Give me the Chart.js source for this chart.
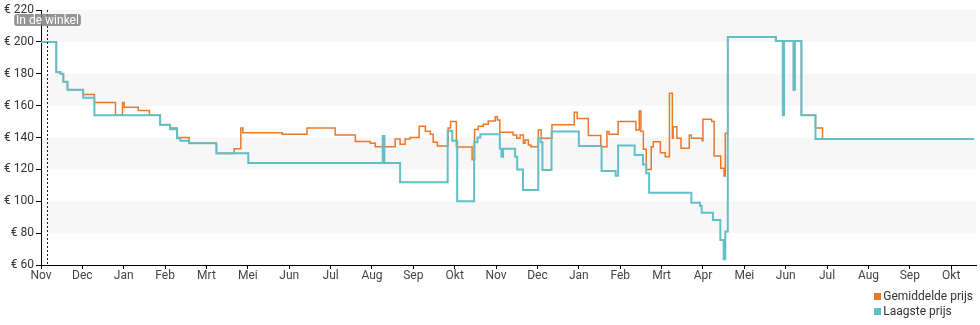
<!DOCTYPE html>
<html>
<head>
<meta charset="utf-8">
<script src="https://cdn.jsdelivr.net/npm/chart.js@4/dist/chart.umd.min.js"></script>
<style>
  body { margin: 0; background: #fff; font-family: Roboto, sans-serif; }
  #wrap { position: relative; width: 980px; height: 325px; }
  #legend { position: absolute; right: 7px; top: 289px; font-size: 12px; color: #333; line-height: 15px; }
  #legend span.box { display: inline-block; width: 7px; height: 7px; margin-right: 2px; }
</style>
</head>
<body>
<div id="wrap">
  <canvas id="chart"></canvas>
  <div id="legend"></div>
</div>
<script>
// x values are months counted from the first "Nov" tick
const monthLabels = ['Nov', 'Dec', 'Jan', 'Feb', 'Mrt', 'Mei', 'Jun', 'Jul', 'Aug', 'Sep', 'Okt',
  'Nov', 'Dec', 'Jan', 'Feb', 'Mrt', 'Apr', 'Mei', 'Jun', 'Jul', 'Aug', 'Sep', 'Okt'];

const avgMonths = [0, 0.37, 0.47, 0.54, 0.64, 1.02, 1.29, 1.80, 1.97, 2.01, 2.35, 2.62, 2.88, 3.12, 3.29, 3.58,
  4.24, 4.67, 4.83, 4.88, 5.83, 6.43, 7.11, 7.60, 7.96, 8.08, 8.26, 8.30, 8.56, 8.68, 8.80, 8.92,
  9.14, 9.29, 9.41, 9.48, 9.58, 9.84, 9.90, 10.04, 10.42, 10.48, 10.57, 10.69, 10.81, 10.98, 11.03,
  11.09, 11.41, 11.50, 11.58, 11.66, 11.70, 11.78, 11.84, 12.02, 12.09, 12.35, 12.89, 12.96, 13.23,
  13.53, 13.68, 13.73, 13.95, 14.38, 14.46, 14.50, 14.56, 14.63, 14.75, 14.80, 14.97, 15.09, 15.19,
  15.26, 15.28, 15.37, 15.47, 15.67, 15.72, 15.98, 16.00, 16.21, 16.27, 16.43, 16.51, 16.54, 16.60,
  17.77, 17.93, 17.96, 18.19, 18.22, 18.38, 18.72, 18.89, 22.55];
const avgPrices = [200, 181, 180, 175, 170, 167, 162, 154, 162, 159, 157, 154, 148, 146, 140, 136.5,
  130, 133, 146, 143, 142, 146, 141.5, 137.5, 136.4, 134.2, 140.5, 134.2, 139, 135.7, 139, 140,
  147, 144, 142, 137, 134.7, 146, 150, 134, 126, 145, 147, 148.3, 150.4, 153, 151,
  143.3, 141.6, 139.5, 141.6, 136.4, 138.5, 135.3, 134.2, 144.7, 139.5, 148, 155.8, 152, 141.2,
  134.2, 143.7, 142, 150, 144.7, 156.6, 144, 132.6, 120, 134.2, 137.4, 130.5, 128, 167.7,
  139.5, 146.8, 139.5, 133.2, 141.6, 139.5, 137.9, 151.4, 150, 128.4, 120.7, 115.9, 142.6, 203,
  200.5, 154, 200.5, 170, 200.5, 154, 146, 139, 139];

const lowMonths = [0, 0.37, 0.47, 0.54, 0.64, 1.02, 1.29, 2.88, 3.12, 3.29, 3.37, 3.58, 4.24, 5.01,
  8.26, 8.30, 8.68, 9.83, 9.94, 10.06, 10.47, 10.55, 10.62, 11.09, 11.13, 11.17, 11.46, 11.51, 11.65,
  12.02, 12.08, 12.12, 12.34, 13.00, 13.55, 13.89, 13.95, 14.35, 14.55, 14.63, 14.70, 15.72, 15.93,
  15.97, 16.24, 16.42, 16.50, 16.54, 16.60, 17.76, 17.93, 17.96, 18.19, 18.22, 18.38, 18.72, 22.55];
const lowPrices = [200, 181, 180, 175, 170, 165, 154, 148, 145.2, 139.5, 138, 136.4, 130.1, 124,
  141, 124, 112, 144.3, 138, 100, 137, 140, 142, 133, 128, 133, 128, 120, 107,
  139.5, 137, 119.6, 143.7, 134.7, 119, 116, 135, 129, 123, 117.5, 105.4, 99, 97,
  92.8, 88.3, 75.7, 63.6, 81, 203, 200.5, 154, 200.5, 170, 200.5, 154, 139, 139];

const yTicks = [60, 80, 100, 120, 140, 160, 180, 200, 220];
const shadedBands = [[80, 100], [120, 140], [160, 180], [200, 220]];
const storeMonth = 0.15;
const storeLabel = 'In de winkel';

const seriesNames = ['Gemiddelde prijs', 'Laagste prijs'];
const seriesColors = ['#e8792b', '#62bfc7'];

const toPoints = (xs, ys) => xs.map((x, i) => ({x: x, y: ys[i]}));

const bandsPlugin = {
  id: 'bands',
  beforeDatasetsDraw(chart) {
    const {ctx, chartArea, scales: {y}} = chart;
    ctx.save();
    ctx.fillStyle = '#f7f7f7';
    shadedBands.forEach(([lo, hi]) => {
      const top = y.getPixelForValue(hi);
      ctx.fillRect(chartArea.left + 1, top, chartArea.right - chartArea.left - 1, y.getPixelForValue(lo) - top);
    });
    ctx.restore();
  }
};

const storePlugin = {
  id: 'storeMarker',
  afterDatasetsDraw(chart) {
    const {ctx, chartArea, scales: {x}} = chart;
    const px = Math.round(x.getPixelForValue(storeMonth)) + 0.5;
    ctx.save();
    ctx.strokeStyle = '#222';
    ctx.lineWidth = 1;
    ctx.setLineDash([2, 2]);
    ctx.beginPath();
    ctx.moveTo(px, chartArea.top);
    ctx.lineTo(px, chartArea.bottom);
    ctx.stroke();
    ctx.setLineDash([]);
    ctx.font = '12px Roboto';
    const w = ctx.measureText(storeLabel).width + 4;
    const cy = chartArea.top + 10;
    ctx.fillStyle = 'rgba(130,130,130,0.85)';
    ctx.beginPath();
    ctx.roundRect(px - w / 2, cy - 6, w, 12, 3);
    ctx.fill();
    ctx.fillStyle = '#fff';
    ctx.textAlign = 'center';
    ctx.textBaseline = 'middle';
    ctx.fillText(storeLabel, px, cy + 0.5);
    ctx.restore();
  }
};

new Chart(document.getElementById('chart'), {
  type: 'line',
  data: {
    datasets: [
      {label: seriesNames[0], data: toPoints(avgMonths, avgPrices), borderColor: seriesColors[0], borderWidth: 1.5, order: 1},
      {label: seriesNames[1], data: toPoints(lowMonths, lowPrices), borderColor: seriesColors[1], borderWidth: 2, order: 0}
    ]
  },
  options: {
    animation: false,
    responsive: true,
    maintainAspectRatio: false,
    layout: {padding: {top: 10, right: 4, bottom: 40, left: 0}},
    elements: {
      line: {stepped: true, fill: false},
      point: {radius: 0}
    },
    scales: {
      x: {
        type: 'linear',
        min: 0,
        max: 22.6,
        afterBuildTicks: (scale) => { scale.ticks = monthLabels.map((_, i) => ({value: i})); },
        afterFit: (scale) => { scale.height = 20; },
        ticks: {
          autoSkip: false, maxRotation: 0, padding: 0, color: '#444',
          font: {family: 'Roboto', size: 12},
          callback: (v) => monthLabels[v]
        },
        grid: {drawOnChartArea: false, drawTicks: true, tickLength: 4, color: '#000'},
        border: {display: true, color: '#000', width: 1}
      },
      y: {
        min: 60,
        max: 220,
        afterBuildTicks: (scale) => { scale.ticks = yTicks.map(v => ({value: v})); },
        afterFit: (scale) => { scale.width = 41; },
        ticks: {
          padding: 2, color: '#333',
          font: {family: 'Roboto', size: 12},
          callback: (v) => '€ ' + v
        },
        grid: {drawOnChartArea: false, drawTicks: true, tickLength: 5, color: '#000'},
        border: {display: true, color: '#000', width: 1}
      }
    },
    plugins: {
      legend: {display: false},
      tooltip: {enabled: false}
    }
  },
  plugins: [bandsPlugin, storePlugin]
});

document.getElementById('legend').innerHTML = seriesNames.map((name, i) =>
  `<div><span class="box" style="background:${seriesColors[i]}"></span>${name}</div>`).join('');
</script>
</body>
</html>
